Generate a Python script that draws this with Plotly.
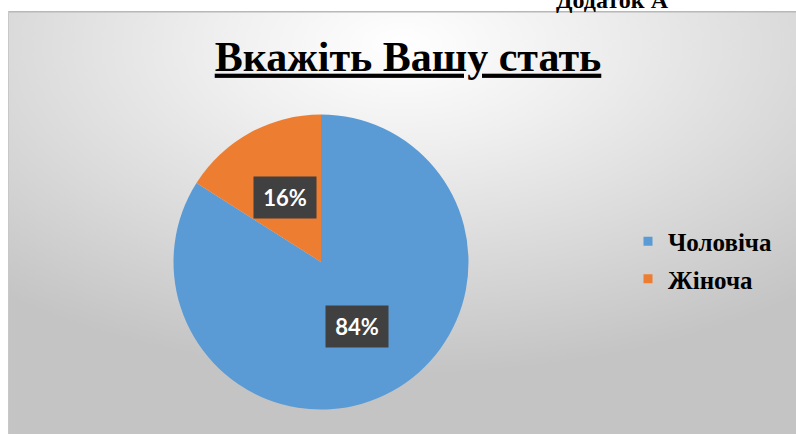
import math
import base64
import plotly.graph_objects as go

# ---- data ----
categories = ["Чоловіча", "Жіноча"]
values = [84, 16]
colors = ["#5B9BD5", "#ED7D31"]
title_text = "Вкажіть Вашу стать"
appendix_text = "Додаток А"

W, H = 796, 434

# pie placement (pixels)
CX, CY, R = 321, 262, 147.5

# background gradient for chart area
svg = f'''<svg xmlns="http://www.w3.org/2000/svg" width="788" height="423" viewBox="0 0 788 423" preserveAspectRatio="none">
<defs><radialGradient id="g" cx="0.5" cy="0.08" r="0.78">
<stop offset="0" stop-color="#ffffff"/>
<stop offset="0.3" stop-color="#efefef"/>
<stop offset="1" stop-color="#c4c4c4"/>
</radialGradient></defs>
<rect x="0" y="0" width="788" height="423" fill="url(#g)"/>
<rect x="0" y="0" width="788" height="1.5" fill="#b8b8b8"/>
<rect x="0" y="0" width="1" height="423" fill="#c8c8c8"/>
</svg>'''
bg_src = "data:image/svg+xml;base64," + base64.b64encode(svg.encode()).decode()

fig = go.Figure()

fig.add_trace(go.Pie(
    labels=categories,
    values=values,
    marker=dict(colors=colors, line=dict(width=0)),
    sort=False,
    direction="clockwise",
    rotation=0,
    textinfo="none",
    showlegend=False,
    domain=dict(x=[(CX - R) / W, (CX + R) / W],
                y=[1 - (CY + R) / H, 1 - (CY - R) / H]),
))

# legend entries
for i, (cat, col) in enumerate(zip(categories, colors)):
    fig.add_trace(go.Scatter(
        x=[None], y=[None], mode="markers", name=cat,
        marker=dict(symbol="square", size=9, color=col),
        legendgroup=f"g{i}", showlegend=True,
    ))

# data labels positioned from the slice angles
total = sum(values)
annotations = []
cum = 0
for v in values:
    mid = (cum + v / 2) / total * 2 * math.pi
    cum += v
    px = CX + 0.5 * R * math.sin(mid)
    py = CY - 0.5 * R * math.cos(mid)
    annotations.append(dict(
        x=px / W, y=1 - py / H, xref="paper", yref="paper",
        text=f"{v / total * 100:.0f}%", showarrow=False,
        font=dict(family="Lato", size=22, color="white", weight="bold"),
        bgcolor="#404040", width=60, height=39, borderpad=1,
        xanchor="center", yanchor="middle",
    ))

annotations.append(dict(
    x=612 / W, y=1 - 15 / H, xref="paper", yref="paper",
    text=appendix_text, showarrow=False,
    font=dict(family="Liberation Serif", size=24, color="black", weight="bold"),
    xanchor="center", yanchor="bottom",
))

fig.update_layout(
    width=W, height=H,
    margin=dict(l=0, r=0, t=0, b=0),
    paper_bgcolor="white",
    plot_bgcolor="rgba(0,0,0,0)",
    xaxis=dict(visible=False),
    yaxis=dict(visible=False),
    title=dict(
        text=title_text, x=408 / W, xanchor="center", xref="paper",
        y=1 - 56 / H, yanchor="middle", yref="paper",
        font=dict(family="Liberation Serif", size=42, color="black",
                  weight="bold", lineposition="under"),
    ),
    legend=dict(
        x=628 / W, xanchor="left", y=1 - 260 / H, yanchor="middle",
        font=dict(family="Liberation Serif", size=25, color="black", weight="bold"),
        bgcolor="rgba(0,0,0,0)", tracegroupgap=2,
        itemclick=False,
    ),
    images=[dict(
        source=bg_src, xref="paper", yref="paper",
        x=8 / W, y=1 - 11 / H, sizex=(W - 8) / W, sizey=(H - 11) / H,
        xanchor="left", yanchor="top", sizing="stretch", layer="below",
    )],
    annotations=annotations,
)

fig.write_html("out.html",
               config={"displayModeBar": False},
               post_script="document.body.style.margin='0';document.body.style.overflow='hidden';")
